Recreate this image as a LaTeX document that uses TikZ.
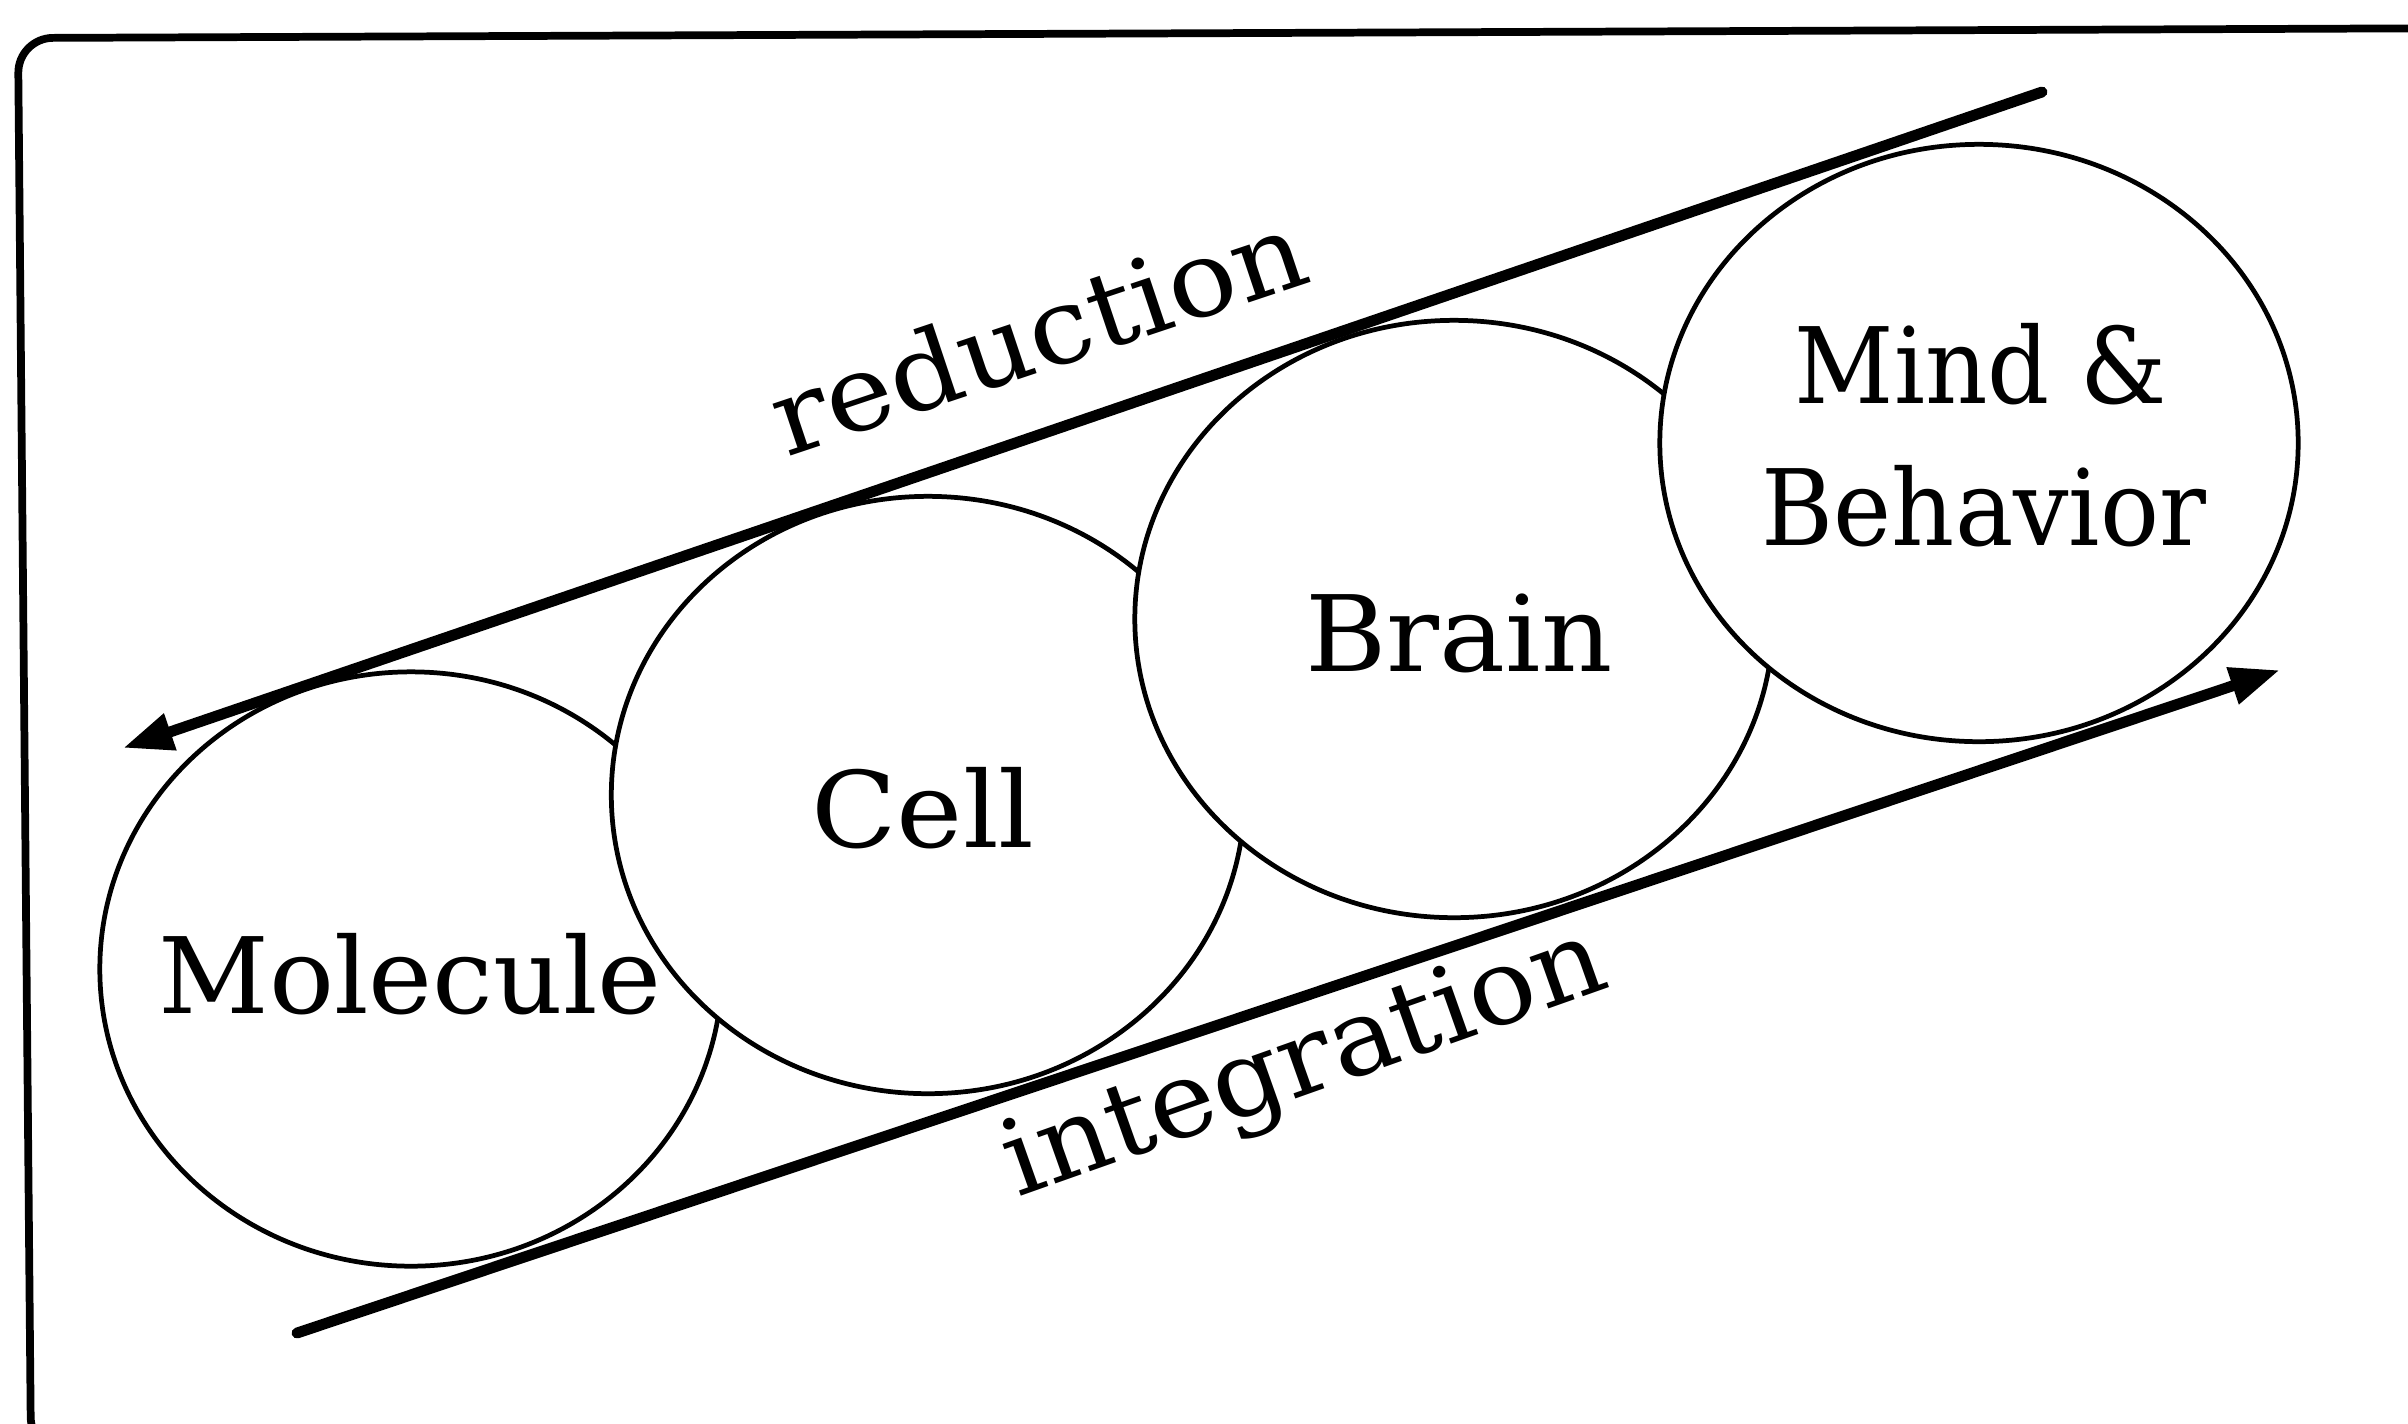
\documentclass[tikz,border=0pt]{standalone}
\usepackage{graphicx}
\usepackage{fontspec}
\setmainfont{DejaVu Serif}
\usetikzlibrary{arrows.meta,shapes.geometric}
\begin{document}
\begin{tikzpicture}[x=0.01cm,y=-0.01cm,
  blob/.style={ellipse,draw,fill=white,line width=1.35pt,minimum width=6.33cm,minimum height=5.97cm,inner sep=0pt},
  lbl/.style={font=\fontsize{30}{42}\selectfont,anchor=base,inner sep=0pt},
  bigarrow/.style={line width=3.1pt,line cap=round,-{Triangle[length=0.5cm,width=0.36cm]}},
  frame/.style={line width=2.2pt,rounded corners=0.35cm}]
\useasboundingbox (0,0) rectangle (2408,1423);
\clip (0,0) rectangle (2408,1423);
\fill[white] (0,0) rectangle (2408,1423);
% frame
\draw[frame] (300,1452) -- (31,1452) -- (18,38) -- (2500,28);
% circles
\node[blob,minimum width=6.22cm,minimum height=5.94cm] (mol) at (411,969) {};
\node[blob] (cell) at (928,795) {};
\node[blob,minimum width=6.38cm] (brain) at (1454,619) {};
\node[blob,minimum width=6.38cm] (mind) at (1979,443) {};
% arrows
\coordinate (rtail) at (2042,92);
\coordinate (rtip) at (123,748);
\coordinate (itail) at (297,1333);
\coordinate (itip) at (2280,670);
\draw[bigarrow] (rtail) -- (rtip);
\draw[bigarrow] (itail) -- (itip);
% labels
\node[lbl] (tmol) at (410,1013) {\scalebox{1.025}[1]{Molecule}};
\node[lbl] (tcell) at (923,847) {\scalebox{1.06}[1]{Cell}};
\node[lbl] (tbrain) at (1459,671) {\scalebox{1.05}[1]{Brain}};
\node[lbl] (tmind) at (1981,403) {\scalebox{0.92}[1]{Mind \&}};
\node[lbl] (tbeh) at (1984,545) {\scalebox{0.93}[1]{Behavior}};
\node[lbl,rotate=18.5] (tred) at (1050,369) {\scalebox{1.08}[1]{reduction}};
\node[lbl,rotate=19.5] (tint) at (1315,1092) {\scalebox{1.06}[1]{integration}};
\end{tikzpicture}
\end{document}
